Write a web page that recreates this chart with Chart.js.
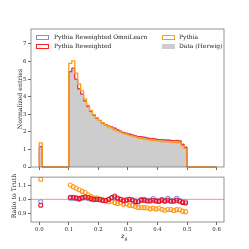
<!DOCTYPE html>
<html lang="en">
<head>
<meta charset="UTF-8" />
<script src="https://cdn.jsdelivr.net/npm/chart.js@4.4.0/dist/chart.umd.min.js"></script>
<title>zg reweighting</title>
<style>
  body { margin: 0; background: #fff; width: 249px; height: 249px; position: relative; overflow: hidden;
         font-family: 'DejaVu Serif', serif; color: #222; }
  canvas { position: absolute; left: 0; }
  #top { top: 0; }
  #ratio { top: 172px; }
  .txt { position: absolute; font-size: 6px; line-height: 8px; white-space: nowrap; }
  .patch { position: absolute; width: 11px; height: 3px; }
  .ylab { position: absolute; font-size: 6.2px; white-space: nowrap; transform: translate(-50%, -50%) rotate(-90deg); }
</style>
</head>
<body>
<canvas id="top" width="249" height="172"></canvas>
<canvas id="ratio" width="249" height="77"></canvas>

<div class="patch" style="left:36px;top:35px;border:1px solid #8a8ad8"></div>
<div class="txt" style="left:54px;top:33px">Pythia Reweighted OmniLearn</div>
<div class="patch" style="left:36px;top:44px;border:1px solid #ff2020"></div>
<div class="txt" style="left:54px;top:42px">Pythia Reweighted</div>
<div class="patch" style="left:162px;top:35px;border:1px solid #ff9a1a"></div>
<div class="txt" style="left:179px;top:33px">Pythia</div>
<div class="patch" style="left:162px;top:44px;width:13px;height:5px;background:#cdcdcd"></div>
<div class="txt" style="left:179px;top:42px">Data (Herwig)</div>

<div class="ylab" style="left:19px;top:99px">Normalized entries</div>
<div class="ylab" style="left:13px;top:196px">Ratio to Truth</div>
<div class="txt" style="left:121px;top:232px;font-size:6.5px"><i>z</i><sub style="font-size:4.5px"><i>g</i></sub></div>

<script>
// lower edges of the filled bins (width 0.01); everything else in [0, 0.6] is empty
const binLo = [0.0].concat(Array.from({ length: 40 }, (_, i) => +(0.1 + i * 0.01).toFixed(2)))
const binW = 0.01
const xTicks = [0, 0.1, 0.2, 0.3, 0.4, 0.5, 0.6]
const yTicks = [0, 1, 2, 3, 4, 5, 6, 7]
const ratioTicks = [0.9, 1.0, 1.1]

const dataVals = [1.20, 5.35, 5.55, 4.95, 4.42, 4.10, 3.70, 3.40, 3.15, 2.95, 2.78,
  2.65, 2.52, 2.42, 2.33, 2.25, 2.17, 2.10, 2.04, 1.98, 1.93,
  1.88, 1.84, 1.80, 1.76, 1.73, 1.70, 1.67, 1.64, 1.62, 1.60,
  1.58, 1.56, 1.55, 1.54, 1.53, 1.52, 1.51, 1.50, 1.32, 1.15]
const pythiaVals = [1.37, 5.89, 6.04, 5.34, 4.72, 4.33, 3.88, 3.51, 3.21, 2.98, 2.81,
  2.65, 2.51, 2.39, 2.29, 2.22, 2.12, 2.04, 1.99, 1.91, 1.87,
  1.80, 1.76, 1.71, 1.66, 1.63, 1.60, 1.57, 1.53, 1.52, 1.49,
  1.48, 1.45, 1.43, 1.43, 1.42, 1.40, 1.40, 1.39, 1.21, 1.05]
const rwVals = [1.15, 5.43, 5.63, 5.00, 4.45, 4.15, 3.76, 3.45, 3.17, 2.95, 2.78,
  2.65, 2.50, 2.40, 2.33, 2.28, 2.22, 2.12, 2.04, 1.96, 1.92,
  1.88, 1.83, 1.77, 1.73, 1.72, 1.69, 1.65, 1.62, 1.61, 1.58,
  1.56, 1.55, 1.53, 1.53, 1.51, 1.50, 1.50, 1.48, 1.29, 1.12]
const omniVals = [1.18, 5.39, 5.59, 4.97, 4.42, 4.13, 3.74, 3.42, 3.15, 2.94, 2.78,
  2.64, 2.51, 2.40, 2.33, 2.27, 2.20, 2.11, 2.04, 1.97, 1.92,
  1.88, 1.83, 1.78, 1.74, 1.73, 1.70, 1.66, 1.63, 1.63, 1.59,
  1.56, 1.56, 1.54, 1.55, 1.52, 1.51, 1.52, 1.49, 1.30, 1.13]

const X_MIN = -0.028, X_MAX = 0.625
const FONT = { family: 'DejaVu Serif', size: 5.4 }

// step outline: each point holds its value until the next point, back to zero in the gaps
function stepPoints(vals) {
  const pts = [{ x: binLo[0], y: 0 }]
  binLo.forEach((lo, i) => {
    pts.push({ x: lo, y: vals[i] })
    const hi = +(lo + binW).toFixed(2)
    const next = binLo[i + 1]
    if (next === undefined || next > hi + 1e-9) pts.push({ x: hi, y: 0 })
  })
  pts.push({ x: 0.6, y: 0 })
  return pts
}
const ratioPoints = (vals) => binLo.map((lo, i) => ({ x: lo + binW / 2, y: vals[i] / dataVals[i] }))

const frame = {
  id: 'frame',
  afterDraw(chart) {
    const { ctx, chartArea: a } = chart
    ctx.save()
    ctx.strokeStyle = '#7a7a7a'
    ctx.lineWidth = 0.8
    ctx.strokeRect(a.left, a.top, a.right - a.left, a.bottom - a.top)
    ctx.restore()
  },
}

const setTicks = (list) => (scale) => { scale.ticks = list.map((v) => ({ value: v })) }
const grid = { display: true, drawOnChartArea: false, drawTicks: true, tickLength: 3, tickColor: '#444', lineWidth: 0.8 }

new Chart(document.getElementById('top'), {
  type: 'line',
  data: {
    datasets: [
      { label: 'Pythia', data: stepPoints(pythiaVals), stepped: 'before', borderColor: '#ff9a1a', borderWidth: 1.3, pointRadius: 0, fill: false, order: 0, clip: 3 },
      { label: 'Pythia Reweighted', data: stepPoints(rwVals), stepped: 'before', borderColor: '#ff2020', borderWidth: 1.0, pointRadius: 0, fill: false, order: 1, clip: 3 },
      { label: 'Pythia Reweighted OmniLearn', data: stepPoints(omniVals), stepped: 'before', borderColor: '#8a8ad8', borderWidth: 1.0, pointRadius: 0, fill: false, order: 2, clip: 3 },
      { label: 'Data (Herwig)', data: stepPoints(dataVals), stepped: 'before', borderWidth: 0, backgroundColor: '#cdcdcd', pointRadius: 0, fill: 'origin', order: 3 },
    ],
  },
  options: {
    responsive: false,
    animation: false,
    layout: { padding: { left: 0, right: 25, top: 29, bottom: 0 } },
    plugins: { legend: { display: false }, tooltip: { enabled: false } },
    scales: {
      x: {
        type: 'linear', min: X_MIN, max: X_MAX,
        afterBuildTicks: setTicks(xTicks),
        afterFit: (s) => { s.height = 5 },
        ticks: { display: false },
        grid: grid, border: { display: false },
      },
      y: {
        min: 0, max: 7.85,
        afterBuildTicks: setTicks(yTicks),
        afterFit: (s) => { s.width = 31 },
        ticks: { font: FONT, color: '#222', padding: 1.5 },
        grid: grid, border: { display: false },
      },
    },
  },
  plugins: [frame],
})

const circle = (color) => ({
  type: 'scatter', pointStyle: 'circle', pointRadius: 2.0, pointBorderWidth: 1.1,
  borderColor: color, pointBackgroundColor: 'rgba(0,0,0,0)', backgroundColor: 'rgba(0,0,0,0)',
})

new Chart(document.getElementById('ratio'), {
  type: 'scatter',
  data: {
    datasets: [
      { label: 'Pythia Reweighted', data: ratioPoints(rwVals), ...circle('#ee1122'), order: 0 },
      { label: 'Pythia', data: ratioPoints(pythiaVals), ...circle('#ff9a1a'), order: 1 },
      { label: 'Pythia Reweighted OmniLearn', data: ratioPoints(omniVals), ...circle('#8a8ad8'), order: 2 },
      { type: 'line', label: 'unity', data: [{ x: X_MIN, y: 1 }, { x: X_MAX, y: 1 }], borderColor: '#ff7070', borderWidth: 0.8, pointRadius: 0, order: 3 },
    ],
  },
  options: {
    responsive: false,
    animation: false,
    layout: { padding: { left: 0, right: 25, top: 3, bottom: 0 } },
    plugins: { legend: { display: false }, tooltip: { enabled: false } },
    scales: {
      x: {
        type: 'linear', min: X_MIN, max: X_MAX,
        afterBuildTicks: setTicks(xTicks),
        afterFit: (s) => { s.height = 27 },
        ticks: { font: FONT, color: '#222', padding: 1, callback: (v) => v.toFixed(1) },
        grid: grid, border: { display: false },
      },
      y: {
        min: 0.84, max: 1.157,
        afterBuildTicks: setTicks(ratioTicks),
        afterFit: (s) => { s.width = 31 },
        ticks: { font: FONT, color: '#222', padding: 1.5, callback: (v) => v.toFixed(1) },
        grid: grid, border: { display: false },
      },
    },
  },
  plugins: [frame],
})
</script>
</body>
</html>
